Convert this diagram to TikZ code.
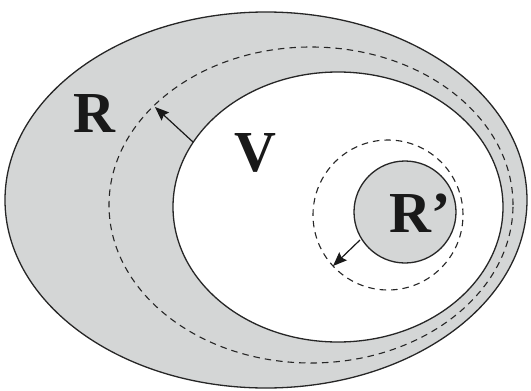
\documentclass[tikz,border=0pt]{standalone}
\usepackage{fontspec}
\setmainfont{Liberation Serif}
\usetikzlibrary{shapes.geometric,arrows.meta}
\definecolor{shade}{RGB}{212,214,214}
\tikzset{
  region/.style={ellipse, inner sep=0pt, line width=1.3pt, draw=black!85},
  bound/.style={ellipse, inner sep=0pt, line width=1.1pt, draw=black!85, dash pattern=on 6.5pt off 5pt},
  lbl/.style={font=\fontsize{58}{58}\selectfont\bfseries, text=black!90, inner sep=0pt},
  pusharrow/.style={line width=1.2pt, draw=black!90, -{Stealth[length=14pt,width=11pt,inset=2pt]}}
}
\begin{document}
\begin{tikzpicture}[x=1pt,y=-1pt]
\useasboundingbox (0,0) rectangle (531,391);
\node[region, fill=shade, minimum width=522pt, minimum height=376pt] (outer) at (266,200) {};
\node[bound, minimum width=404pt, minimum height=316pt] (dashouter) at (311,205) {};
\node[region, fill=white, minimum width=330pt, minimum height=270pt] (inner) at (338,207) {};
\node[bound, circle, minimum size=150pt] (dashinner) at (388,215) {};
\node[region, circle, fill=shade, minimum size=102pt] (rprime) at (405,212) {};
\node[lbl] (labR) at (94,114) {R};
\node[lbl] (labV) at (255,153) {V};
\node[lbl, anchor=west] (labRp) at (389,213) {R’};
\coordinate (a1s) at (193,142);
\coordinate (a1e) at (155,107);
\coordinate (a2s) at (360,240);
\coordinate (a2e) at (333,266);
\draw[pusharrow] (a1s) -- (a1e);
\draw[pusharrow] (a2s) -- (a2e);
\end{tikzpicture}
\end{document}
